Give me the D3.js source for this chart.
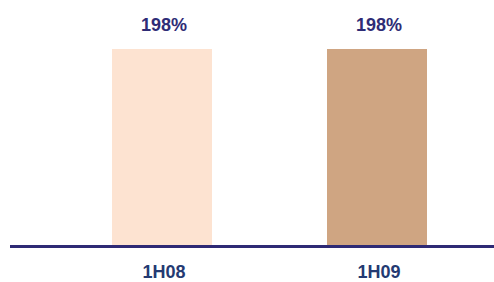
<!DOCTYPE html>
<html>
<head>
<meta charset="utf-8">
<script src="https://cdn.jsdelivr.net/npm/d3@7"></script>
<style>
  body { margin: 0; background: #fff; }
  text { font-family: "Liberation Sans", Arial, sans-serif; font-weight: bold; }
</style>
</head>
<body>
<script>
// chart data
var periods = ["1H08", "1H09"];
var ratios = [198, 198];
var barColors = ["#fde3d1", "#cfa582"];

drawChart();

function drawChart(){
    var width = 494,
        height = 282,
        baseY = 246.5;

    var svg = d3.select("body")
        .append("svg")
        .attr("width", width)
        .attr("height", height);

    var x = d3.scaleBand()
        .domain(periods)
        .range([54.5, 484.5])
        .paddingInner(0.535)
        .paddingOuter(0.2675);

    var y = d3.scaleLinear()
        .domain([0, 198])
        .range([baseY, 49]);

    //bars
    svg.selectAll(".bar")
        .data(periods)
        .enter()
        .append("rect")
        .attr("class", "bar")
        .attr("x", function(d){ return x(d); })
        .attr("width", x.bandwidth())
        .attr("y", function(d, i){ return y(ratios[i]); })
        .attr("height", function(d, i){ return baseY - y(ratios[i]); })
        .attr("fill", function(d, i){ return barColors[i]; });

    //value labels
    svg.selectAll(".val")
        .data(periods)
        .enter()
        .append("text")
        .attr("class", "val")
        .attr("x", function(d){ return x(d) + x.bandwidth() / 2 + 2; })
        .attr("y", function(d, i){ return y(ratios[i]) - 18; })
        .attr("text-anchor", "middle")
        .attr("font-size", 18)
        .attr("fill", "#2e2c76")
        .text(function(d, i){ return ratios[i] + "%"; });

    //baseline
    svg.append("line")
        .attr("x1", 10)
        .attr("x2", width)
        .attr("y1", baseY)
        .attr("y2", baseY)
        .attr("stroke", "#2e2a75")
        .attr("stroke-width", 3);

    //category labels
    svg.selectAll(".cat")
        .data(periods)
        .enter()
        .append("text")
        .attr("class", "cat")
        .attr("x", function(d){ return x(d) + x.bandwidth() / 2 + 2; })
        .attr("y", 278)
        .attr("text-anchor", "middle")
        .attr("font-size", 18)
        .attr("fill", "#243a72")
        .text(function(d){ return d; });
}
</script>
</body>
</html>
